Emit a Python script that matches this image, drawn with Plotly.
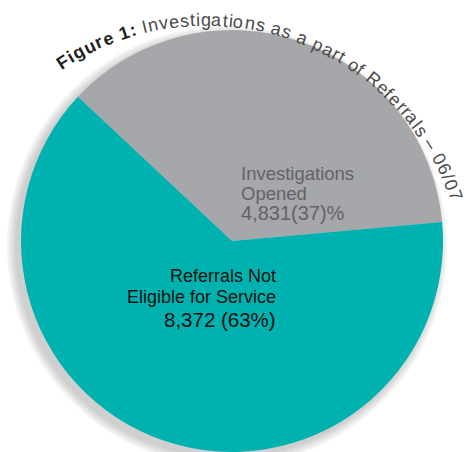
import math
import plotly.graph_objects as go

# ---------------- data ----------------
categories = ["Investigations Opened", "Referrals Not Eligible for Service"]
values = [4831, 8372]
slice_colors = ["#a6a7ab", "#00b2af"]
title_bold = "Figure 1:"
title_rest = "Investigations as a part of Referrals – 06/07"
gray_label_lines = ["Investigations", "Opened"]
teal_label_lines = ["Referrals Not", "Eligible for Service"]

# ---------------- geometry ----------------
W, H = 466, 452
CX, CY, R = 232, 241, 211
FONT = "Liberation Sans, Arial, Helvetica, sans-serif"

total = sum(values)
pcts = [round(100 * v / total) for v in values]

fig = go.Figure(go.Pie(
    labels=categories, values=values, sort=False, direction="clockwise",
    rotation=-46.9,
    marker=dict(colors=slice_colors, line=dict(width=0)),
    textinfo="none", hoverinfo="skip", showlegend=False,
    domain=dict(x=[(CX - R) / W, (CX + R) / W],
                y=[(H - CY - R) / H, (H - CY + R) / H]),
))

# soft drop shadow (lower-left)
shapes = []
for extra in [9, 7, 5, 3, 1]:
    rr = R + extra
    sx, sy = CX - 5, CY + 5
    shapes.append(dict(type="circle", xref="paper", yref="paper", layer="below",
                       x0=(sx - rr) / W, x1=(sx + rr) / W,
                       y0=1 - (sy + rr) / H, y1=1 - (sy - rr) / H,
                       fillcolor="#808080", opacity=0.09, line=dict(width=0)))

annotations = []

def line_ann(text, x_px, base_px, fs, color, anchor):
    annotations.append(dict(
        text=text, x=x_px / W, y=1 - (base_px - 0.35 * fs) / H,
        xref="paper", yref="paper", xanchor=anchor, yanchor="middle",
        borderpad=0, showarrow=False, font=dict(family=FONT, size=fs, color=color)))

gray_col = "#626367"
line_ann(gray_label_lines[0], 240, 180, 18.5, gray_col, "left")
line_ann(gray_label_lines[1], 240, 200, 18.5, gray_col, "left")
line_ann(f"{values[0]:,}({pcts[0]})%", 240, 220, 20, gray_col, "left")

teal_col = "#111111"
line_ann(teal_label_lines[0], 277, 282, 18, teal_col, "right")
line_ann(teal_label_lines[1], 277, 303, 18, teal_col, "right")
line_ann(f"{values[1]:,} ({pcts[1]}%)", 277, 327, 20.5, teal_col, "right")

# ---------------- curved title ----------------
reg = {' ': 278, 'F': 611, 'i': 222, 'g': 556, 'u': 556, 'r': 333, 'e': 556, '1': 556,
       ':': 278, 'I': 278, 'n': 556, 'v': 500, 's': 500, 't': 278, 'a': 556, 'o': 556,
       'p': 556, 'f': 278, 'R': 722, 'l': 222, '–': 556, '0': 556, '6': 556, '/': 278,
       '7': 556}
bold = {' ': 278, 'F': 611, 'i': 278, 'g': 611, 'u': 611, 'r': 389, 'e': 556, '1': 556,
        ':': 333}
fs_t = 18
chars = [(c, True) for c in title_bold] + [(" ", False)] + [(c, False) for c in title_rest]
widths = [(bold if b else reg).get(c, 556) * fs_t / 1000 for c, b in chars]
centers = []
s = 0.0
for w in widths:
    centers.append(s + w / 2)
    s += w
TX, TY, TR = 205.7, 284.8, 265.0     # arc centre and glyph-centre radius
th_a, th_b = 122.6, 19.7             # angles of first / last glyph centres
span = centers[-1] - centers[0]
for (c, b), cpos in zip(chars, centers):
    if c == " ":
        continue
    th = th_a - (th_a - th_b) * (cpos - centers[0]) / span
    px = TX + TR * math.cos(math.radians(th))
    py = TY - TR * math.sin(math.radians(th))
    annotations.append(dict(
        text=f"<b>{c}</b>" if b else c, x=px / W, y=1 - py / H,
        xref="paper", yref="paper", xanchor="center", yanchor="middle",
        textangle=90 - th, showarrow=False, borderpad=0,
        font=dict(family=FONT, size=fs_t, color="#231f20" if b else "#4a4a4a")))

fig.update_layout(
    width=W, height=H, margin=dict(l=0, r=0, t=0, b=0, pad=0),
    paper_bgcolor="white", plot_bgcolor="white",
    shapes=shapes, annotations=annotations, showlegend=False,
)

fig.write_html("out.html", config={"displayModeBar": False},
               post_script="document.body.style.margin='0';")
